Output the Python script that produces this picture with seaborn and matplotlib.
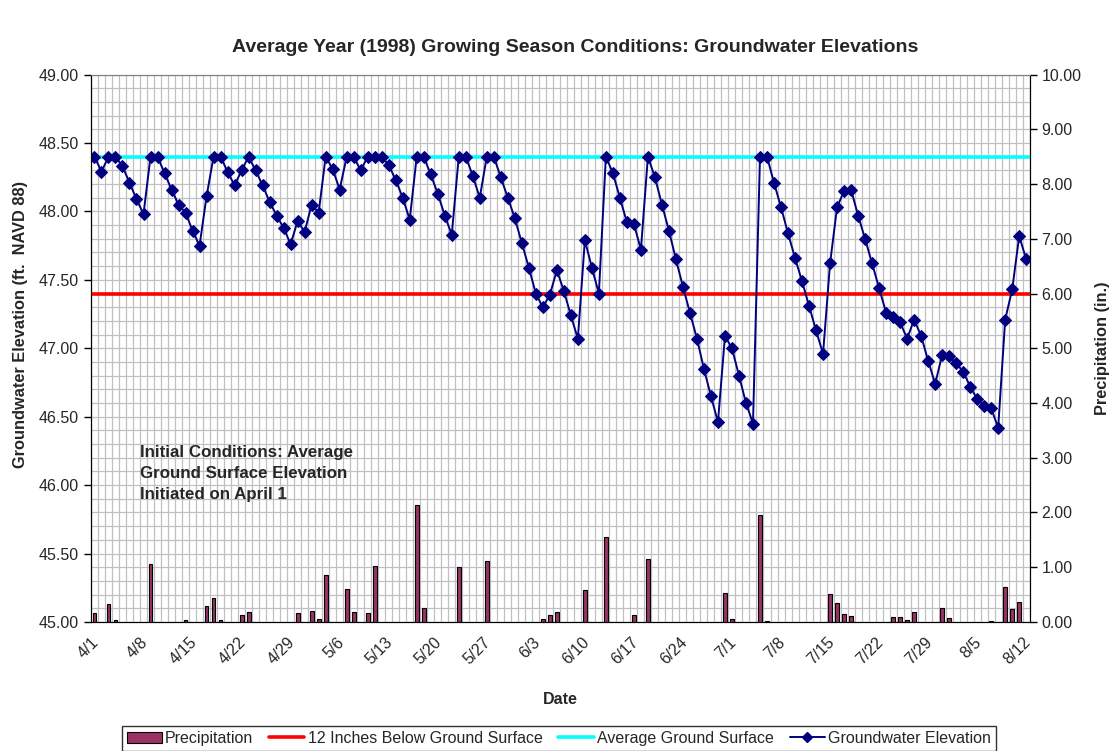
import numpy as np
import pandas as pd
import matplotlib
matplotlib.use("Agg")
import matplotlib.pyplot as plt
from matplotlib.ticker import FixedLocator, MultipleLocator, FormatStrFormatter
from matplotlib.lines import Line2D
from matplotlib.patches import Patch
import seaborn as sns

# daily groundwater elevation, 4/1 .. 8/12 (1998)
gw_elev = [48.40, 48.29, 48.40, 48.40, 48.33, 48.21, 48.09, 47.98, 48.40, 48.40,
           48.28, 48.16, 48.05, 47.99, 47.86, 47.75, 48.11, 48.40, 48.40, 48.29,
           48.19, 48.30, 48.40, 48.30, 48.19, 48.07, 47.97, 47.88, 47.76, 47.93,
           47.85, 48.05, 47.99, 48.40, 48.31, 48.16, 48.40, 48.40, 48.30, 48.40,
           48.40, 48.40, 48.34, 48.23, 48.10, 47.94, 48.40, 48.40, 48.27, 48.13,
           47.97, 47.83, 48.40, 48.40, 48.26, 48.10, 48.40, 48.40, 48.25, 48.10,
           47.95, 47.77, 47.59, 47.40, 47.30, 47.39, 47.57, 47.42, 47.24, 47.07,
           47.79, 47.59, 47.40, 48.40, 48.28, 48.10, 47.92, 47.91, 47.72, 48.40,
           48.25, 48.05, 47.86, 47.65, 47.45, 47.26, 47.07, 46.85, 46.65, 46.46,
           47.09, 47.00, 46.80, 46.60, 46.45, 48.40, 48.40, 48.21, 48.03, 47.84,
           47.66, 47.49, 47.31, 47.13, 46.96, 47.62, 48.03, 48.15, 48.16, 47.97,
           47.80, 47.62, 47.44, 47.26, 47.23, 47.19, 47.07, 47.21, 47.09, 46.91,
           46.74, 46.95, 46.94, 46.89, 46.83, 46.72, 46.63, 46.58, 46.56, 46.42,
           47.21, 47.43, 47.82, 47.65]

# precipitation (in.) on rain days, day index from 4/1
rain_days = [0, 2, 3, 8, 13, 16, 17, 18, 21, 22, 29, 31, 32, 33, 36, 37, 39, 40,
             46, 47, 52, 56, 64, 65, 66, 70, 73, 77, 79, 90, 91, 95, 96, 105, 106,
             107, 108, 114, 115, 116, 117, 121, 122, 128, 130, 131, 132]
rain_in = [0.17, 0.32, 0.04, 1.06, 0.04, 0.29, 0.44, 0.03, 0.12, 0.18, 0.16, 0.20,
           0.05, 0.85, 0.61, 0.18, 0.17, 1.03, 2.13, 0.26, 1.00, 1.11, 0.05, 0.13,
           0.18, 0.59, 1.56, 0.12, 1.15, 0.53, 0.06, 1.96, 0.01, 0.51, 0.34, 0.15,
           0.11, 0.10, 0.10, 0.03, 0.19, 0.26, 0.07, 0.02, 0.63, 0.24, 0.37]

avg_ground = 48.40
below_12in = 47.40

dates = pd.date_range("1998-04-01", periods=len(gw_elev), freq="D")
tick_labels = [f"{d.month}/{d.day}" for d in dates[::7]]

gw = pd.DataFrame({"day": np.arange(len(gw_elev)), "elev": gw_elev})
rain = pd.DataFrame({"day": rain_days, "precip": rain_in})

sns.set_style("white")
plt.rcParams["font.family"] = ["Liberation Sans", "DejaVu Sans"]

fig = plt.figure(figsize=(11.12, 7.51), dpi=100)
ax = fig.add_axes([0.0818, 0.1718, 0.8442, 0.7289])
ax2 = ax.twinx()

# bars on secondary axis
sns.barplot(data=rain, x="day", y="precip", native_scale=True, width=0.55,
            color="#993366", edgecolor="black", linewidth=0.8, saturation=1,
            errorbar=None, ax=ax2)

ax.axhline(below_12in, color="#FF0000", lw=2.6, zorder=3)
ax.axhline(avg_ground, color="#00FFFF", lw=2.6, zorder=3)
sns.lineplot(data=gw, x="day", y="elev", color="#000080", lw=1.4,
             marker="D", markersize=6.5, markeredgecolor="#000080",
             ax=ax, zorder=4)

ax.set_xlim(-0.5, len(gw_elev) - 0.5)
ax.set_ylim(45, 49)
ax2.set_ylim(0, 10)
ax2.set_xlim(-0.5, len(gw_elev) - 0.5)

# grid
ax.yaxis.set_major_locator(MultipleLocator(0.5))
ax.yaxis.set_minor_locator(MultipleLocator(0.1))
ax.yaxis.set_major_formatter(FormatStrFormatter("%.2f"))
ax.xaxis.set_major_locator(FixedLocator(np.arange(-0.5, len(gw_elev), 7)))
ax.xaxis.set_minor_locator(FixedLocator(np.arange(-0.5, len(gw_elev) + 0.5, 1)))
ax.set_xticklabels(tick_labels, rotation=45, ha="right", rotation_mode="anchor")
ax.grid(True, which="both", color="#c0c0c0", lw=0.9)
ax.set_axisbelow(True)

ax2.yaxis.set_major_locator(MultipleLocator(1))
ax2.yaxis.set_major_formatter(FormatStrFormatter("%.2f"))
ax2.patch.set_visible(False)
ax2.grid(False)

for a in (ax, ax2):
    a.tick_params(axis="both", which="major", direction="out", length=5, width=1,
                  labelsize=11.5, color="black")
    a.tick_params(axis="both", which="minor", length=0)
    a.spines["top"].set_color("#808080")
    for s in ("right", "left", "bottom"):
        a.spines[s].set_color("black")

ax.tick_params(axis="x", pad=4)
ax.set_xlabel("Date", fontsize=11.5, fontweight="bold", labelpad=18)
ax.set_ylabel("Groundwater Elevation (ft.  NAVD 88)", fontsize=11.8, fontweight="bold")
ax.yaxis.set_label_coords(-0.067, 0.543)
ax2.set_ylabel("Precipitation (in.)", fontsize=11.8, fontweight="bold", labelpad=10)
ax2.set_xlabel("")

fig.suptitle("Average Year (1998) Growing Season Conditions: Groundwater Elevations",
             x=0.517, y=0.948, fontsize=14, fontweight="bold")

ax.text(6.5, 46.29, "Initial Conditions: Average\nGround Surface Elevation\nInitiated on April 1",
        fontsize=12.2, fontweight="bold", va="top", ha="left", linespacing=1.5)

handles = [Patch(facecolor="#993366", edgecolor="black", lw=0.8),
           Line2D([], [], color="#FF0000", lw=2.6),
           Line2D([], [], color="#00FFFF", lw=2.6),
           Line2D([], [], color="#000080", lw=1.4, marker="D", markersize=5.5)]
labels = ["Precipitation", "12 Inches Below Ground Surface", "Average Ground Surface",
          "Groundwater Elevation"]
leg = fig.legend(handles, labels, loc="upper center", bbox_to_anchor=(0.5025, 0.033),
                 borderaxespad=0, ncol=4, fontsize=11.5, frameon=True, fancybox=False,
                 borderpad=0.3, handlelength=2.2, handletextpad=0.2, columnspacing=1.0)
leg.get_frame().set_edgecolor("black")
leg.get_frame().set_linewidth(1)

fig.savefig("out.png", dpi=100)
